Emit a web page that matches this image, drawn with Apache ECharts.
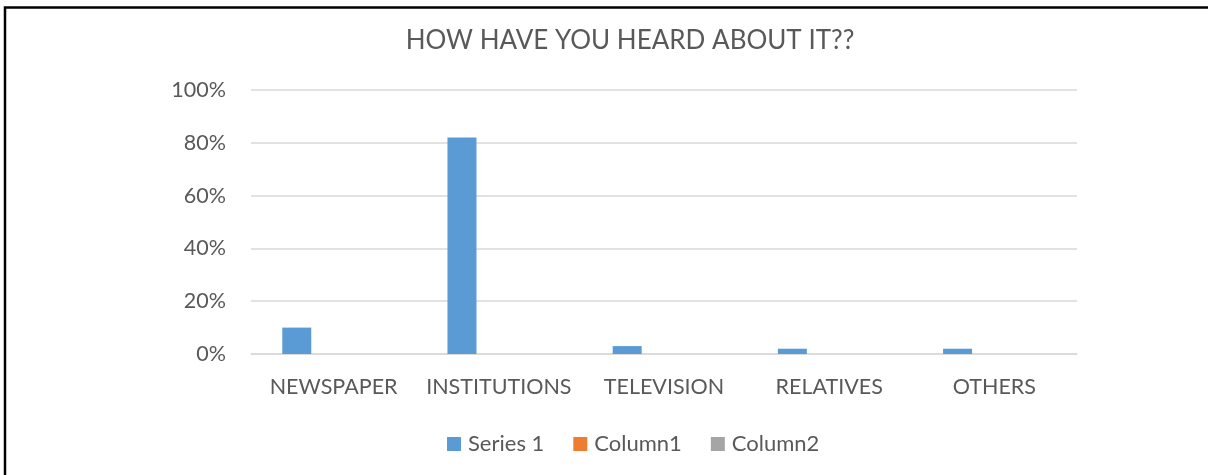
<!DOCTYPE html>
<html>
<head>
<meta charset="utf-8">
<script src="https://cdn.jsdelivr.net/npm/echarts@6/dist/echarts.min.js"></script>
<style>
  html, body { margin: 0; padding: 0; background: #fff; }
  #main { width: 1208px; height: 475px; }
</style>
</head>
<body>
<div id="main"></div>
<script>
var categories = ['NEWSPAPER', 'INSTITUTIONS', 'TELEVISION', 'RELATIVES', 'OTHERS'];
var series1 = [10, 82, 3, 2, 2];
var column1 = ['-', '-', '-', '-', '-'];
var column2 = ['-', '-', '-', '-', '-'];
var seriesNames = ['Series 1', 'Column1', 'Column2'];
var yTicks = [0, 20, 40, 60, 80, 100];

var textColor = '#595959';
var gridColor = '#d9d9d9';
var fontName = 'Lato';

var myChart = echarts.init(document.getElementById('main'));

var option = {
    animation: false,
    color: ['#5b9bd5', '#ed7d31', '#a5a5a5'],
    graphic: [
        {
            // frame around the chart (top and left edges show)
            type: 'polyline',
            shape: { points: [[5, 475], [5, 7.5], [1208, 7.5]] },
            style: { stroke: '#000', lineWidth: 2.5, fill: null }
        }
    ],
    title: {
        text: 'HOW HAVE YOU HEARD ABOUT IT??',
        left: 625,
        top: 23,
        textAlign: 'center',
        textStyle: {
            color: textColor,
            fontFamily: fontName,
            fontWeight: 'normal',
            fontSize: 26
        }
    },
    legend: {
        data: seriesNames,
        left: 442,
        top: 428,
        icon: 'rect',
        itemWidth: 14,
        itemHeight: 14,
        itemGap: 29,
        textStyle: {
            color: textColor,
            fontFamily: fontName,
            fontSize: 22,
            padding: [0, 0, 0, 2]
        }
    },
    grid: {
        left: 251,
        right: 131,
        top: 90,
        bottom: 121
    },
    xAxis: {
        type: 'category',
        data: categories,
        axisTick: { show: false },
        axisLine: { lineStyle: { color: gridColor, width: 1.5 } },
        axisLabel: {
            interval: 0,
            color: textColor,
            fontFamily: fontName,
            fontSize: 21.5,
            margin: 22
        }
    },
    yAxis: {
        type: 'value',
        min: yTicks[0],
        max: yTicks[yTicks.length - 1],
        interval: 20,
        axisLine: { show: false },
        axisTick: { show: false },
        splitLine: { lineStyle: { color: gridColor, width: 1.5 } },
        axisLabel: {
            color: textColor,
            fontFamily: fontName,
            fontSize: 21.5,
            margin: 25,
            formatter: '{value}%'
        }
    },
    series: [
        { name: seriesNames[0], type: 'bar', data: series1, barWidth: 29, barGap: '27%' },
        { name: seriesNames[1], type: 'bar', data: column1, barWidth: 29, barGap: '27%' },
        { name: seriesNames[2], type: 'bar', data: column2, barWidth: 29, barGap: '27%' }
    ]
};

myChart.setOption(option);
</script>
</body>
</html>
